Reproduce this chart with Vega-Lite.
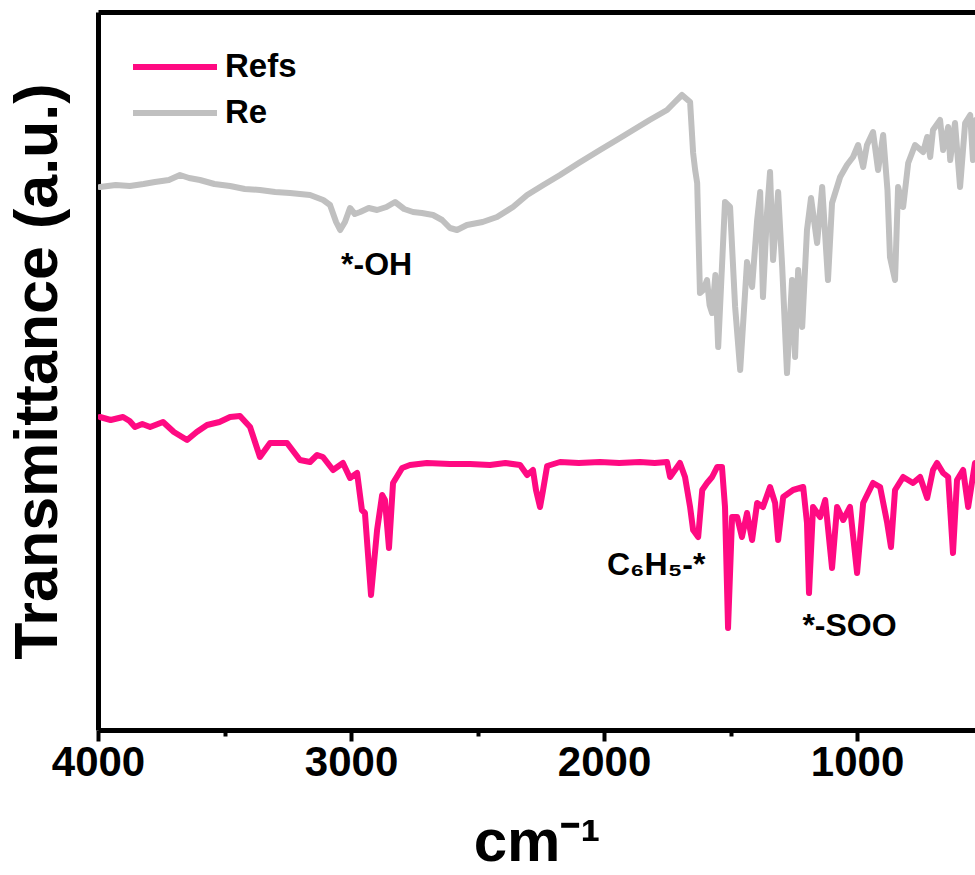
{
  "$schema": "https://vega.github.io/schema/vega-lite/v6.json",
  "width": 877,
  "height": 718,
  "autosize": {"type": "none"},
  "padding": {"left": 98, "top": 12, "right": 0, "bottom": 145},
  "background": "white",
  "config": {
    "view": {"stroke": null},
    "font": "Liberation Sans"
  },
  "resolve": {"axis": {"x": "independent"}},
  "layer": [
    {
      "data": {
        "values": [
          {"s": "Re", "v": 3992, "t": 543}, {"s": "Re", "v": 3930, "t": 545}, {"s": "Re", "v": 3874, "t": 544}, {"s": "Re", "v": 3820, "t": 546}, {"s": "Re", "v": 3775, "t": 548}, {"s": "Re", "v": 3720, "t": 550}, {"s": "Re", "v": 3676, "t": 555}, {"s": "Re", "v": 3640, "t": 552}, {"s": "Re", "v": 3597, "t": 550}, {"s": "Re", "v": 3540, "t": 546}, {"s": "Re", "v": 3478, "t": 544}, {"s": "Re", "v": 3420, "t": 541}, {"s": "Re", "v": 3360, "t": 540}, {"s": "Re", "v": 3300, "t": 538}, {"s": "Re", "v": 3241, "t": 537}, {"s": "Re", "v": 3162, "t": 535}, {"s": "Re", "v": 3110, "t": 530}, {"s": "Re", "v": 3083, "t": 525}, {"s": "Re", "v": 3059, "t": 508}, {"s": "Re", "v": 3043, "t": 500}, {"s": "Re", "v": 3024, "t": 508}, {"s": "Re", "v": 3004, "t": 522}, {"s": "Re", "v": 2985, "t": 516}, {"s": "Re", "v": 2964, "t": 518}, {"s": "Re", "v": 2930, "t": 522}, {"s": "Re", "v": 2897, "t": 520}, {"s": "Re", "v": 2860, "t": 523}, {"s": "Re", "v": 2826, "t": 528}, {"s": "Re", "v": 2790, "t": 521}, {"s": "Re", "v": 2755, "t": 518}, {"s": "Re", "v": 2720, "t": 517}, {"s": "Re", "v": 2676, "t": 515}, {"s": "Re", "v": 2640, "t": 510}, {"s": "Re", "v": 2609, "t": 502}, {"s": "Re", "v": 2581, "t": 500}, {"s": "Re", "v": 2542, "t": 505}, {"s": "Re", "v": 2480, "t": 508}, {"s": "Re", "v": 2423, "t": 513}, {"s": "Re", "v": 2360, "t": 523}, {"s": "Re", "v": 2304, "t": 535}, {"s": "Re", "v": 2240, "t": 545}, {"s": "Re", "v": 2174, "t": 555}, {"s": "Re", "v": 2100, "t": 567}, {"s": "Re", "v": 2016, "t": 580}, {"s": "Re", "v": 1950, "t": 590}, {"s": "Re", "v": 1885, "t": 600}, {"s": "Re", "v": 1820, "t": 610}, {"s": "Re", "v": 1751, "t": 620}, {"s": "Re", "v": 1720, "t": 628}, {"s": "Re", "v": 1692, "t": 635}, {"s": "Re", "v": 1660, "t": 628}, {"s": "Re", "v": 1648, "t": 577}, {"s": "Re", "v": 1640, "t": 560}, {"s": "Re", "v": 1632, "t": 547}, {"s": "Re", "v": 1621, "t": 437}, {"s": "Re", "v": 1608, "t": 440}, {"s": "Re", "v": 1593, "t": 450}, {"s": "Re", "v": 1583, "t": 425}, {"s": "Re", "v": 1573, "t": 417}, {"s": "Re", "v": 1560, "t": 455}, {"s": "Re", "v": 1549, "t": 383}, {"s": "Re", "v": 1522, "t": 528}, {"s": "Re", "v": 1502, "t": 523}, {"s": "Re", "v": 1482, "t": 423}, {"s": "Re", "v": 1462, "t": 360}, {"s": "Re", "v": 1435, "t": 468}, {"s": "Re", "v": 1415, "t": 443}, {"s": "Re", "v": 1395, "t": 510}, {"s": "Re", "v": 1383, "t": 538}, {"s": "Re", "v": 1372, "t": 433}, {"s": "Re", "v": 1356, "t": 517}, {"s": "Re", "v": 1344, "t": 558}, {"s": "Re", "v": 1332, "t": 470}, {"s": "Re", "v": 1312, "t": 538}, {"s": "Re", "v": 1296, "t": 463}, {"s": "Re", "v": 1277, "t": 357}, {"s": "Re", "v": 1257, "t": 450}, {"s": "Re", "v": 1245, "t": 373}, {"s": "Re", "v": 1233, "t": 460}, {"s": "Re", "v": 1217, "t": 403}, {"s": "Re", "v": 1198, "t": 500}, {"s": "Re", "v": 1182, "t": 532}, {"s": "Re", "v": 1158, "t": 487}, {"s": "Re", "v": 1138, "t": 543}, {"s": "Re", "v": 1115, "t": 450}, {"s": "Re", "v": 1099, "t": 527}, {"s": "Re", "v": 1067, "t": 553}, {"s": "Re", "v": 1040, "t": 565}, {"s": "Re", "v": 1016, "t": 573}, {"s": "Re", "v": 996, "t": 585}, {"s": "Re", "v": 976, "t": 563}, {"s": "Re", "v": 961, "t": 585}, {"s": "Re", "v": 937, "t": 598}, {"s": "Re", "v": 917, "t": 560}, {"s": "Re", "v": 897, "t": 595}, {"s": "Re", "v": 880, "t": 540}, {"s": "Re", "v": 870, "t": 473}, {"s": "Re", "v": 850, "t": 450}, {"s": "Re", "v": 838, "t": 543}, {"s": "Re", "v": 818, "t": 523}, {"s": "Re", "v": 798, "t": 567}, {"s": "Re", "v": 771, "t": 585}, {"s": "Re", "v": 739, "t": 578}, {"s": "Re", "v": 723, "t": 593}, {"s": "Re", "v": 711, "t": 573}, {"s": "Re", "v": 700, "t": 600}, {"s": "Re", "v": 672, "t": 610}, {"s": "Re", "v": 660, "t": 580}, {"s": "Re", "v": 640, "t": 603}, {"s": "Re", "v": 632, "t": 570}, {"s": "Re", "v": 613, "t": 607}, {"s": "Re", "v": 593, "t": 543}, {"s": "Re", "v": 573, "t": 607}, {"s": "Re", "v": 553, "t": 615}, {"s": "Re", "v": 542, "t": 570}, {"s": "Re", "v": 530, "t": 610},
          {"s": "Refs", "v": 3992, "t": 313}, {"s": "Refs", "v": 3950, "t": 310}, {"s": "Refs", "v": 3901, "t": 313}, {"s": "Refs", "v": 3875, "t": 309}, {"s": "Refs", "v": 3854, "t": 303}, {"s": "Refs", "v": 3825, "t": 306}, {"s": "Refs", "v": 3794, "t": 303}, {"s": "Refs", "v": 3743, "t": 308}, {"s": "Refs", "v": 3700, "t": 298}, {"s": "Refs", "v": 3648, "t": 290}, {"s": "Refs", "v": 3610, "t": 298}, {"s": "Refs", "v": 3569, "t": 305}, {"s": "Refs", "v": 3520, "t": 308}, {"s": "Refs", "v": 3478, "t": 313}, {"s": "Refs", "v": 3439, "t": 314}, {"s": "Refs", "v": 3399, "t": 303}, {"s": "Refs", "v": 3360, "t": 273}, {"s": "Refs", "v": 3320, "t": 287}, {"s": "Refs", "v": 3253, "t": 287}, {"s": "Refs", "v": 3202, "t": 270}, {"s": "Refs", "v": 3162, "t": 268}, {"s": "Refs", "v": 3134, "t": 275}, {"s": "Refs", "v": 3111, "t": 273}, {"s": "Refs", "v": 3071, "t": 260}, {"s": "Refs", "v": 3032, "t": 267}, {"s": "Refs", "v": 3004, "t": 252}, {"s": "Refs", "v": 2976, "t": 257}, {"s": "Refs", "v": 2957, "t": 220}, {"s": "Refs", "v": 2945, "t": 217}, {"s": "Refs", "v": 2921, "t": 135}, {"s": "Refs", "v": 2897, "t": 200}, {"s": "Refs", "v": 2877, "t": 235}, {"s": "Refs", "v": 2866, "t": 230}, {"s": "Refs", "v": 2850, "t": 182}, {"s": "Refs", "v": 2834, "t": 247}, {"s": "Refs", "v": 2798, "t": 262}, {"s": "Refs", "v": 2767, "t": 265}, {"s": "Refs", "v": 2700, "t": 267}, {"s": "Refs", "v": 2609, "t": 266}, {"s": "Refs", "v": 2530, "t": 266}, {"s": "Refs", "v": 2451, "t": 265}, {"s": "Refs", "v": 2390, "t": 267}, {"s": "Refs", "v": 2332, "t": 265}, {"s": "Refs", "v": 2304, "t": 255}, {"s": "Refs", "v": 2281, "t": 260}, {"s": "Refs", "v": 2269, "t": 240}, {"s": "Refs", "v": 2253, "t": 223}, {"s": "Refs", "v": 2241, "t": 240}, {"s": "Refs", "v": 2225, "t": 264}, {"s": "Refs", "v": 2174, "t": 268}, {"s": "Refs", "v": 2100, "t": 267}, {"s": "Refs", "v": 2016, "t": 268}, {"s": "Refs", "v": 1940, "t": 267}, {"s": "Refs", "v": 1858, "t": 268}, {"s": "Refs", "v": 1800, "t": 267}, {"s": "Refs", "v": 1751, "t": 268}, {"s": "Refs", "v": 1739, "t": 253}, {"s": "Refs", "v": 1700, "t": 267}, {"s": "Refs", "v": 1680, "t": 253}, {"s": "Refs", "v": 1660, "t": 223}, {"s": "Refs", "v": 1648, "t": 200}, {"s": "Refs", "v": 1628, "t": 193}, {"s": "Refs", "v": 1612, "t": 240}, {"s": "Refs", "v": 1593, "t": 247}, {"s": "Refs", "v": 1573, "t": 253}, {"s": "Refs", "v": 1553, "t": 263}, {"s": "Refs", "v": 1534, "t": 263}, {"s": "Refs", "v": 1522, "t": 223}, {"s": "Refs", "v": 1510, "t": 102}, {"s": "Refs", "v": 1494, "t": 213}, {"s": "Refs", "v": 1474, "t": 213}, {"s": "Refs", "v": 1455, "t": 193}, {"s": "Refs", "v": 1435, "t": 217}, {"s": "Refs", "v": 1415, "t": 190}, {"s": "Refs", "v": 1395, "t": 227}, {"s": "Refs", "v": 1372, "t": 223}, {"s": "Refs", "v": 1344, "t": 243}, {"s": "Refs", "v": 1324, "t": 227}, {"s": "Refs", "v": 1312, "t": 190}, {"s": "Refs", "v": 1292, "t": 233}, {"s": "Refs", "v": 1253, "t": 240}, {"s": "Refs", "v": 1213, "t": 243}, {"s": "Refs", "v": 1198, "t": 207}, {"s": "Refs", "v": 1190, "t": 137}, {"s": "Refs", "v": 1174, "t": 223}, {"s": "Refs", "v": 1146, "t": 213}, {"s": "Refs", "v": 1126, "t": 230}, {"s": "Refs", "v": 1099, "t": 162}, {"s": "Refs", "v": 1079, "t": 223}, {"s": "Refs", "v": 1055, "t": 210}, {"s": "Refs", "v": 1028, "t": 223}, {"s": "Refs", "v": 1000, "t": 157}, {"s": "Refs", "v": 976, "t": 227}, {"s": "Refs", "v": 937, "t": 247}, {"s": "Refs", "v": 909, "t": 243}, {"s": "Refs", "v": 881, "t": 207}, {"s": "Refs", "v": 866, "t": 183}, {"s": "Refs", "v": 850, "t": 240}, {"s": "Refs", "v": 818, "t": 253}, {"s": "Refs", "v": 779, "t": 247}, {"s": "Refs", "v": 751, "t": 253}, {"s": "Refs", "v": 723, "t": 232}, {"s": "Refs", "v": 700, "t": 260}, {"s": "Refs", "v": 684, "t": 267}, {"s": "Refs", "v": 660, "t": 257}, {"s": "Refs", "v": 640, "t": 253}, {"s": "Refs", "v": 621, "t": 177}, {"s": "Refs", "v": 605, "t": 250}, {"s": "Refs", "v": 581, "t": 260}, {"s": "Refs", "v": 561, "t": 223}, {"s": "Refs", "v": 534, "t": 267}
        ]
      },
      "mark": {"type": "line", "strokeWidth": 6, "strokeJoin": "round", "strokeCap": "round", "clip": true},
      "encoding": {
        "x": {
          "field": "v", "type": "quantitative",
          "scale": {"domain": [4000, 534], "nice": false, "zero": false},
          "axis": {
            "orient": "bottom",
            "values": [4000, 3500, 3000, 2500, 2000, 1500, 1000],
            "format": "d",
            "labelExpr": "datum.value % 1000 === 0 ? datum.label : ''",
            "grid": false,
            "domainColor": "black", "domainWidth": 5,
            "tickColor": "black", "tickWidth": 4,
            "tickSize": {"condition": {"test": "datum.value % 1000 === 0", "value": 11}, "value": 6},
            "labelFont": "Liberation Sans", "labelFontWeight": "bold", "labelFontSize": 42, "labelColor": "black",
            "labelPadding": 1, "labelFlush": false, "labelOverlap": false,
            "title": "cm⁻¹",
            "titleFont": "Liberation Sans", "titleFontWeight": "bold", "titleFontSize": 60, "titleColor": "black",
            "titlePadding": 30
          }
        },
        "y": {
          "field": "t", "type": "quantitative",
          "scale": {"domain": [0, 718], "nice": false, "zero": false},
          "axis": {
            "orient": "left",
            "ticks": false, "labels": false, "grid": false,
            "domainColor": "black", "domainWidth": 5,
            "title": "Transmittance (a.u.)",
            "titleFont": "Liberation Sans", "titleFontWeight": "bold", "titleFontSize": 61, "titleColor": "black",
            "titlePadding": 29
          }
        },
        "color": {
          "field": "s", "type": "nominal",
          "scale": {"domain": ["Refs", "Re"], "range": ["#FF0A82", "#C0C0C0"]},
          "legend": {
            "title": null,
            "orient": "none", "legendX": 60, "legendY": 38,
            "symbolType": "M-3,0H3", "symbolStrokeWidth": 6, "symbolSize": 784,
            "labelFont": "Liberation Sans", "labelFontWeight": "bold", "labelFontSize": 33, "labelColor": "black",
            "labelOffset": 33, "rowPadding": 12
          }
        }
      }
    },
    {
      "data": {
        "values": [
          {"label": "*-OH", "v": 2899, "t": 465},
          {"label": "C₆H₅-*", "v": 1794, "t": 165},
          {"label": "*-SOO", "v": 1030, "t": 104}
        ]
      },
      "mark": {"type": "text", "font": "Liberation Sans", "fontWeight": "bold", "fontSize": 32, "color": "black", "align": "center", "baseline": "middle"},
      "encoding": {
        "x": {
          "field": "v", "type": "quantitative",
          "axis": {"orient": "top", "ticks": false, "labels": false, "grid": false, "title": null, "domainColor": "black", "domainWidth": 5}
        },
        "y": {"field": "t", "type": "quantitative"},
        "text": {"field": "label"}
      }
    }
  ]
}
